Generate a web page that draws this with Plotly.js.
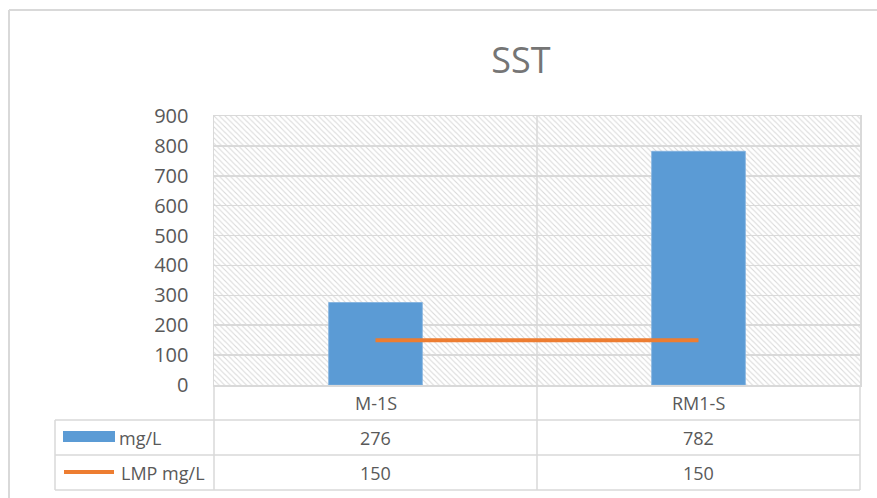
<!DOCTYPE html>
<html>
<head>
<meta charset="utf-8">
<script src="https://cdn.plot.ly/plotly-3.0.1.min.js"></script>
<style>html,body{margin:0;padding:0;background:#fff;}#chart{width:877px;height:498px;}</style>
</head>
<body>
<div id="chart"></div>
<script>
// ---- data ----
const categories = ["M-1S", "RM1-S"];
const seriesNames = ["mg/L", "LMP mg/L"];
const barValues = [276, 782];
const lmpValues = [150, 150];
const yTicks = [0, 100, 200, 300, 400, 500, 600, 700, 800, 900];

// ---- layout geometry (pixels) ----
const W = 877, H = 498;
const PL = 214, PR = 860, PT = 116, PB = 385;
const pw = PR - PL, ph = PB - PT;
const px = X => (X - PL) / pw;
const py = Y => (PB - Y) / ph;

const grid = '#d9d9d9';
const txt = '#595959';
const font = 'Open Sans, Noto Sans, sans-serif';

// hatch background for plot area
const svg = `<svg xmlns='http://www.w3.org/2000/svg' width='${pw}' height='${ph}'><defs><pattern id='p' width='5.5' height='5.5' patternUnits='userSpaceOnUse'><path d='M-1,-1 L6.5,6.5 M-6.5,-1 L1,6.5 M4.5,-1 L12,6.5' stroke='#d9d9d9' stroke-width='1.1'/></pattern></defs><rect width='100%' height='100%' fill='white'/><rect width='100%' height='100%' fill='url(#p)'/></svg>`;
const hatch = 'data:image/svg+xml;charset=utf-8,' + encodeURIComponent(svg);

const xIdx = categories.map((c, i) => i);

const traces = [
  {type: 'bar', x: xIdx, y: barValues, name: seriesNames[0], width: 0.29,
   marker: {color: '#5b9bd5', line: {color: '#7fb0de', width: 0.8}}, hoverinfo: 'y'},
  {type: 'scatter', mode: 'lines', x: xIdx, y: lmpValues, name: seriesNames[1],
   line: {color: '#ed7d31', width: 4}, hoverinfo: 'y'}
];

const shapes = [];
const annotations = [];
const L = (x0, y0, x1, y1, xref, w, col, layer) => shapes.push({type: 'line', xref: xref || 'paper', yref: 'paper',
  x0, y0, x1, y1, line: {color: col || grid, width: w || 1.5}, layer: layer || 'above'});

// chart border (left and top visible)
L(px(9), py(10), px(9), py(505), 'paper', 2);
L(px(9), py(10), px(885), py(10), 'paper', 2);

// table lines
const yR1 = py(420), yR2 = py(455), yR3 = py(490);
L(px(55), yR1, 1, yR1); L(px(55), yR2, 1, yR2); L(px(55), yR3, 1, yR3);
L(px(55), yR1, px(55), yR3);
L(0, 0, 0, yR3); L(1, 0, 1, yR3);
L(0.5, 1, 0.5, 0, 'x', 1.5, grid, 'below');
L(0.5, 0, 0.5, yR3, 'x');

// legend keys
shapes.push({type: 'rect', xref: 'paper', yref: 'paper', x0: px(63), x1: px(115), y0: py(431), y1: py(442),
  fillcolor: '#5b9bd5', line: {width: 0}});
shapes.push({type: 'line', xref: 'paper', yref: 'paper', x0: px(64), x1: px(114), y0: py(472), y1: py(472),
  line: {color: '#ed7d31', width: 4}});

const tf = {family: font, size: 18, color: txt};
categories.forEach((c, i) => {
  annotations.push({xref: 'x', yref: 'paper', x: i, y: py(403), text: c, showarrow: false, font: tf, xanchor: 'center', yanchor: 'middle'});
  annotations.push({xref: 'x', yref: 'paper', x: i, y: py(438), text: String(barValues[i]), showarrow: false, font: tf, xanchor: 'center', yanchor: 'middle'});
  annotations.push({xref: 'x', yref: 'paper', x: i, y: py(473), text: String(lmpValues[i]), showarrow: false, font: tf, xanchor: 'center', yanchor: 'middle'});
});
annotations.push({xref: 'paper', yref: 'paper', x: px(117), y: py(438), text: seriesNames[0], showarrow: false, font: tf, xanchor: 'left', yanchor: 'middle'});
annotations.push({xref: 'paper', yref: 'paper', x: px(119), y: py(473), text: seriesNames[1], showarrow: false, font: tf, xanchor: 'left', yanchor: 'middle'});

const layout = {
  width: W, height: H,
  margin: {l: PL, r: W - PR, t: PT, b: H - PB, pad: 0},
  paper_bgcolor: '#ffffff', plot_bgcolor: 'rgba(0,0,0,0)',
  showlegend: false,
  title: {text: 'SST', x: 521 / W, xanchor: 'center', y: (H - 60) / H, yanchor: 'middle',
          font: {family: font, size: 36, color: '#757575'}},
  xaxis: {range: [-0.5, 1.5], showgrid: false, zeroline: false, showticklabels: false, ticks: '',
          showline: true, mirror: true, linecolor: grid, linewidth: 1.5, fixedrange: true},
  yaxis: {range: [0, 900], tickvals: yTicks, ticktext: yTicks.map(String), showgrid: true, gridcolor: grid, gridwidth: 1.5,
          zeroline: false, showline: true, mirror: true, linecolor: grid, linewidth: 1.5, ticks: '',
          ticklabelstandoff: 20, tickfont: {family: font, size: 20, color: txt}, fixedrange: true},
  images: [{source: hatch, xref: 'paper', yref: 'paper', x: 0, y: 1, sizex: 1, sizey: 1,
            xanchor: 'left', yanchor: 'top', sizing: 'stretch', layer: 'below'}],
  shapes, annotations
};

Plotly.newPlot('chart', traces, layout, {displayModeBar: false, staticPlot: true});
</script>
</body>
</html>
